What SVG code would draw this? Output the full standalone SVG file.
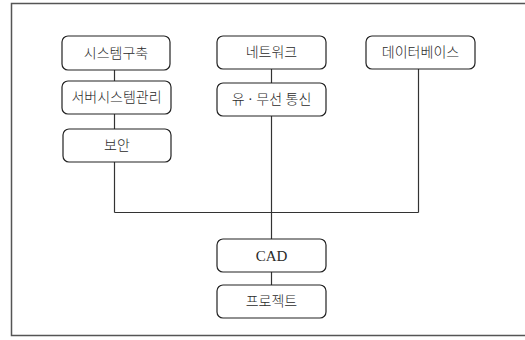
<svg xmlns="http://www.w3.org/2000/svg" width="525" height="340" viewBox="0 0 525 340">
  <style>
    .frame { fill: none; stroke: #555; stroke-width: 1.5; }
    .box { fill: #fff; stroke: #222; stroke-width: 1.2; }
    .wire { fill: none; stroke: #333; stroke-width: 1.2; }
    .label { font-family: "Liberation Serif", "Noto Sans CJK KR", serif; font-size: 14px; font-weight: 300; fill: #2a2a2a; text-anchor: middle; dominant-baseline: central; }
    .latin { font-size: 15px; font-weight: 400; }
  </style>
  <rect width="525" height="340" fill="#fff"/>
  <!-- outer frame (right side runs past the canvas) -->
  <path class="frame" d="M527 3.5 H11.5 V335.5 H527"/>

  <g id="connectors">
    <line class="wire" x1="114.5" y1="70" x2="114.5" y2="81"/>
    <line class="wire" x1="114.5" y1="114" x2="114.5" y2="129"/>
    <line class="wire" x1="114.5" y1="162" x2="114.5" y2="212.5"/>
    <line class="wire" x1="271.5" y1="69" x2="271.5" y2="83"/>
    <line class="wire" x1="271.5" y1="116" x2="271.5" y2="239"/>
    <line class="wire" x1="418.5" y1="69" x2="418.5" y2="212.5"/>
    <line class="wire" x1="114.5" y1="212.5" x2="418.5" y2="212.5"/>
    <line class="wire" x1="271.5" y1="272" x2="271.5" y2="285"/>
  </g>

  <g id="n-system">
    <rect class="box" x="62" y="36" width="108" height="34" rx="6"/>
    <text class="label" x="116" y="53">시스템구축</text>
  </g>
  <g id="n-server">
    <rect class="box" x="62" y="81" width="109" height="33" rx="6"/>
    <text class="label" x="116.5" y="97.5">서버시스템관리</text>
  </g>
  <g id="n-security">
    <rect class="box" x="63" y="129" width="108" height="33" rx="6"/>
    <text class="label" x="117" y="145.5">보안</text>
  </g>
  <g id="n-network">
    <rect class="box" x="217" y="36" width="109" height="33" rx="6"/>
    <text class="label" x="271.5" y="52.5">네트워크</text>
  </g>
  <g id="n-comm">
    <rect class="box" x="217" y="83" width="109" height="33" rx="6"/>
    <text class="label" x="271.5" y="99.5">유 · 무선 통신</text>
  </g>
  <g id="n-db">
    <rect class="box" x="366" y="36" width="109" height="33" rx="6"/>
    <text class="label" x="420.5" y="52.5">데이터베이스</text>
  </g>
  <g id="n-cad">
    <rect class="box" x="217" y="239" width="109" height="33" rx="6"/>
    <text class="label latin" x="271.5" y="255.5">CAD</text>
  </g>
  <g id="n-project">
    <rect class="box" x="217" y="285" width="109" height="33" rx="6"/>
    <text class="label" x="271.5" y="301.5">프로젝트</text>
  </g>
</svg>
